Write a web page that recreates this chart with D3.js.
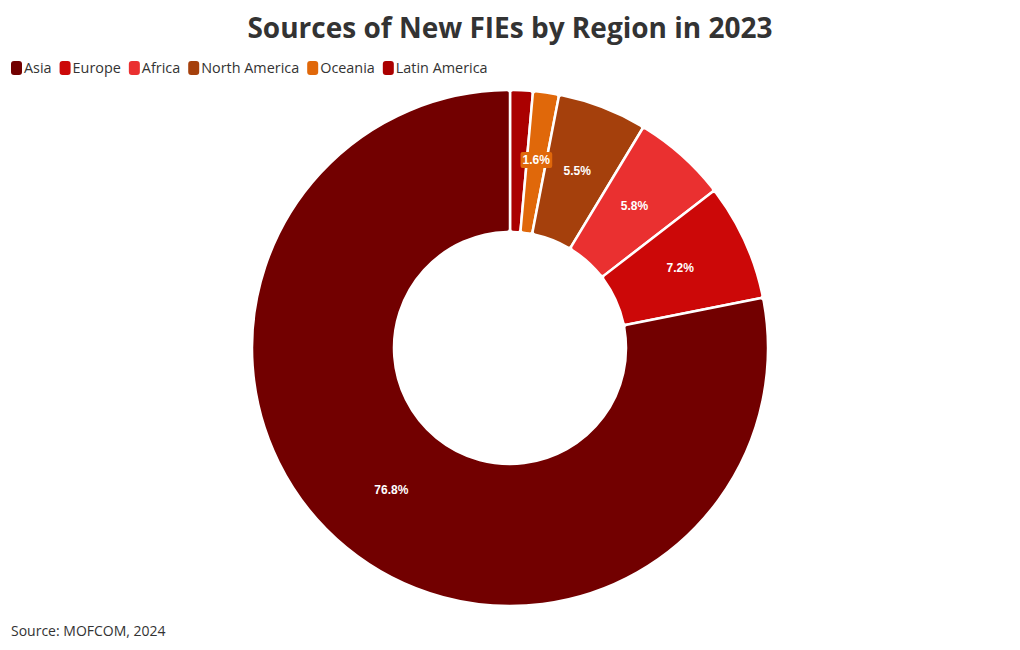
<!DOCTYPE html>
<html><head><meta charset="utf-8">
<script src="https://cdn.jsdelivr.net/npm/d3@7"></script>
<style>body{margin:0;background:#fff}svg{display:block}</style>
</head><body>
<svg id="c" width="1020" height="650"></svg>
<script>
const categories = ["Asia","Europe","Africa","North America","Oceania","Latin America"];
const values = [76.8, 7.2, 5.8, 5.5, 1.6, 1.4];
const labels = ["76.8%","7.2%","5.8%","5.5%","1.6%",""];
const colors = ["#720000","#cc0808","#ea3030","#a5400c","#e0680a","#aa0000"];

const svg = d3.select("#c");
const W = 1020, H = 650;
svg.append("text").attr("x", W/2).attr("y", 38).attr("text-anchor","middle")
  .attr("font-family","'Open Sans', sans-serif").attr("font-weight","bold")
  .attr("font-size", 28).attr("fill","#333").text("Sources of New FIEs by Region in 2023");

// legend
const leg = svg.append("g");
let lx = 11;
categories.forEach((c,i)=>{
  const g = leg.append("g").attr("transform",`translate(${lx},61)`);
  g.append("rect").attr("width",11).attr("height",14).attr("rx",3).attr("fill",colors[i]);
  const t = g.append("text").attr("x",13).attr("y",12).attr("font-family","'Open Sans', sans-serif")
    .attr("font-size",14.4).attr("fill","#333").text(c);
  lx += 13 + t.node().getComputedTextLength() + 8;
});

const data = categories.map((c,i)=>({cat:c, value:values[i], label:labels[i], color:colors[i]})).reverse();
const cx = 510, cy = 348, R = 258, r = 116;
const pie = d3.pie().sort(null).value(d=>d.value);
const arc = d3.arc().innerRadius(r).outerRadius(R).cornerRadius(3);
const arcs = pie(data);
const g = svg.append("g").attr("transform",`translate(${cx},${cy})`);
g.selectAll("path").data(arcs).join("path").attr("d",arc).attr("fill",d=>d.data.color)
  .attr("stroke","#fff").attr("stroke-width",2.5).attr("stroke-linejoin","round");

const lab = g.selectAll("g.lab").data(arcs.filter(d=>d.data.label)).join("g").attr("class","lab")
  .attr("transform",d=>{const c = arc.centroid(d); return `translate(${c[0]},${c[1]-3})`;});
lab.each(function(d){
  const s = d3.select(this);
  const t = s.append("text").attr("text-anchor","middle").attr("dy","0.35em")
    .attr("font-family","'Liberation Sans', Arial, sans-serif").attr("font-weight","bold")
    .attr("font-size",12).attr("fill","#fff").text(d.data.label);
  if (d.data.value < 3) {
    const b = t.node().getBBox();
    s.insert("rect","text").attr("x",b.x-2).attr("y",b.y-1).attr("width",b.width+4).attr("height",b.height+2)
      .attr("rx",2).attr("fill",d.data.color);
  }
});

svg.append("text").attr("x",11).attr("y",636).attr("font-family","'Open Sans', sans-serif")
  .attr("font-size",14).attr("fill","#333").text("Source: MOFCOM, 2024");
</script>
</body></html>
